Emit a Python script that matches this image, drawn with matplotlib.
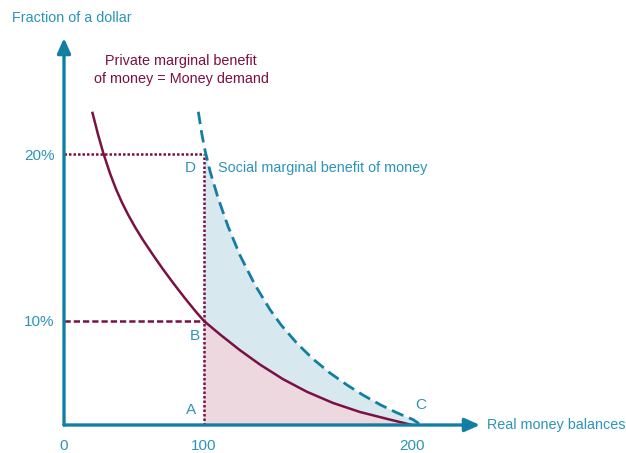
import numpy as np
import matplotlib.pyplot as plt

plt.rcParams['font.family'] = ['Liberation Sans', 'DejaVu Sans']

# data
x_ticks = [0, 100, 200]
y_ticks = [10, 20]
y_labels = ['10%', '20%']

private_x = [20.36, 24.29, 28.21, 32.86, 37.14, 41.43, 45.71, 50.71, 56.43, 63.79,
             70.71, 78.57, 86.43, 93.57, 100,
             107.69, 117.31, 126.92, 137.98, 149.52, 162.02, 175.0, 187.98, 200]
private_y = [22.46, 21.17, 20.02, 18.84, 17.90, 17.09, 16.38, 15.63, 14.85, 13.93,
             13.10, 12.21, 11.36, 10.62, 10,
             8.71, 7.19, 5.81, 4.41, 3.19, 2.12, 1.25, 0.59, 0]

social_x = [95.93, 98.57, 100.48, 102.88, 106.73, 111.54, 117.31, 124.52, 131.73,
            137.02, 144.71, 152.40, 160.58, 168.75, 176.44, 184.62, 192.79, 200.48, 203.37]
social_y = [22.53, 21.14, 20.22, 18.98, 17.38, 15.67, 13.93, 12.16, 10.68,
            9.63, 7.85, 6.35, 5.0, 3.85, 2.88, 1.96, 1.17, 0.52, 0.14]

teal = '#137ea3'
teal_txt = '#2b95b8'
maroon = '#7b1043'
pink = '#ecd8de'
blue = '#d8e8ef'

# the drawing is schematic: the axes are piecewise linear
xs_data, xs_pos = [0, 100, 200, 300], [0, 140, 348, 556]
ys_data, ys_pos = [0, 10, 20, 40], [0, 104, 271, 605]


def fx(v):
    return np.interp(v, xs_data, xs_pos)


def ix(v):
    return np.interp(v, xs_pos, xs_data)


def fy(v):
    return np.interp(v, ys_data, ys_pos)


def iy(v):
    return np.interp(v, ys_pos, ys_data)


fig = plt.figure(figsize=(6.26, 4.53), dpi=100)
ax = fig.add_axes([64 / 626, 28 / 453, 416 / 626, 387 / 453])
ax.set_xscale('function', functions=(fx, ix))
ax.set_yscale('function', functions=(fy, iy))
ax.set_xlim(0, ix(416))
ax.set_ylim(0, iy(387))
for s in ax.spines.values():
    s.set_visible(False)

# shaded areas
px = np.array(private_x)
py = np.array(private_y)
m = px >= 100
ax.fill(np.r_[100, px[m]], np.r_[0, py[m]], color=pink, lw=0, zorder=1)
sx = np.array(social_x)
sy = np.array(social_y)
ms = sx >= 100
ax.fill(np.r_[sx[ms], px[m][::-1]], np.r_[sy[ms], py[m][::-1]], color=blue, lw=0, zorder=1)

# guide lines
ax.plot([0, 100], [20, 20], color=maroon, lw=1.8, ls=(0, (1, 0.8)), zorder=2)
ax.plot([100, 100], [0, 20], color=maroon, lw=1.8, ls=(0, (1, 0.8)), zorder=2)
ax.plot([0, 100], [10, 10], color=maroon, lw=1.8, ls=(0, (2.5, 1.2)), zorder=2)

# curves
ax.plot(private_x, private_y, color=maroon, lw=1.8, zorder=3)
ax.plot(social_x, social_y, color=teal, lw=2, ls=(0, (4.5, 2.2)), zorder=3)

# axes with arrows
ax.annotate('', xy=(1, 0), xytext=(0, 0), xycoords='axes fraction',
            arrowprops=dict(arrowstyle='-|>,head_length=0.9,head_width=0.4',
                            color=teal, lw=2.4, shrinkA=0, shrinkB=0), zorder=4)
ax.annotate('', xy=(0, 1), xytext=(0, 0), xycoords='axes fraction',
            arrowprops=dict(arrowstyle='-|>,head_length=0.9,head_width=0.4',
                            color=teal, lw=2.4, shrinkA=0, shrinkB=0), zorder=4)

ax.set_xticks(x_ticks)
ax.set_xticklabels([str(v) for v in x_ticks])
ax.set_yticks(y_ticks)
ax.set_yticklabels(y_labels)
ax.tick_params(length=0, colors=teal_txt, labelsize=11)
ax.tick_params(axis='x', pad=10)
ax.tick_params(axis='y', pad=7)

fs = 10.4
fig.text(12 / 626, 1 - 18 / 453, 'Fraction of a dollar', color=teal_txt, fontsize=fs, va='center')
fig.text(487 / 626, 1 - 425 / 453, 'Real money balances', color=teal_txt, fontsize=fs, va='center')
fig.text(181 / 626, 1 - 70 / 453, 'Private marginal benefit\nof money = Money demand',
         color=maroon, fontsize=fs, va='center', ha='center', linespacing=1.4)
fig.text(218 / 626, 1 - 168 / 453, 'Social marginal benefit of money', color=teal_txt,
         fontsize=fs, va='center')
for lab, xp, yp in [('D', 190, 168), ('B', 195, 336), ('A', 191, 410), ('C', 421, 405)]:
    fig.text(xp / 626, 1 - yp / 453, lab, color=teal_txt, fontsize=11, va='center', ha='center')

fig.savefig('out.png', dpi=100)
